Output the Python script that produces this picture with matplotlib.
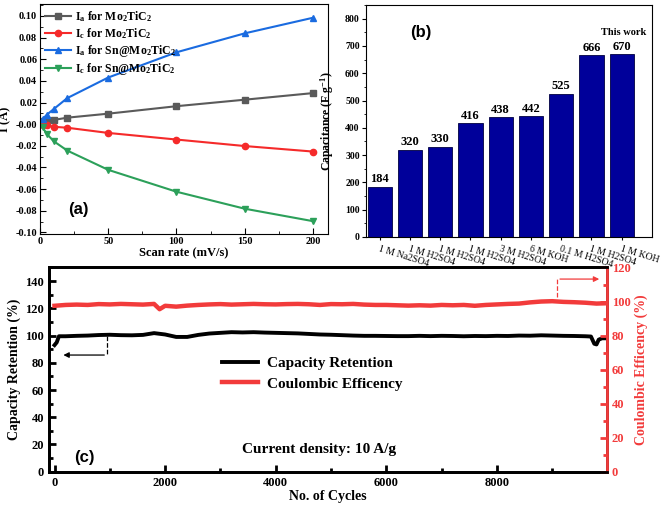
import numpy as np
import matplotlib
matplotlib.use("Agg")
import matplotlib.pyplot as plt
from matplotlib.ticker import MultipleLocator
from matplotlib import transforms

plt.rcParams["font.family"] = ["Liberation Serif", "DejaVu Serif"]
plt.rcParams["font.weight"] = "bold"
plt.rcParams["axes.labelweight"] = "bold"
plt.rcParams["mathtext.fontset"] = "custom"
plt.rcParams["mathtext.rm"] = "Liberation Serif:bold"
plt.rcParams["mathtext.it"] = "Liberation Serif:italic:bold"
plt.rcParams["mathtext.bf"] = "Liberation Serif:bold"

# (a) peak current vs scan rate
scan_rate = [2, 5, 10, 20, 50, 100, 150, 200]
ia_mo = [0.0030, 0.0035, 0.0039, 0.0060, 0.0097, 0.0166, 0.0226, 0.0287]
ic_mo = [-0.0005, -0.0012, -0.0024, -0.0033, -0.0081, -0.0142, -0.0202, -0.0253]
ia_sn = [0.0048, 0.0087, 0.0139, 0.0241, 0.0431, 0.0664, 0.0839, 0.0983]
ic_sn = [-0.0030, -0.0090, -0.0157, -0.0244, -0.0422, -0.0624, -0.0781, -0.0896]

# (b) capacitance comparison
electrolytes = ["1 M Na2SO4", "1 M H2SO4", "1 M H2SO4", "1 M H2SO4", "3 M H2SO4",
                "6 M KOH", "0.1 M H2SO4", "1 M H2SO4", "1 M KOH"]
capacitance = [184, 320, 330, 416, 438, 442, 525, 666, 670]

# (c) cycling stability
cyc_ret = [0, 40, 80, 200, 400, 600, 800, 1000, 1200, 1400, 1600, 1800, 2000,
           2200, 2400, 2600, 2800, 3000, 3200, 3400, 3600, 3800, 4000, 4200,
           4400, 4600, 4800, 5000, 5200, 5400, 5600, 5800, 6000, 6200, 6400,
           6600, 6800, 7000, 7200, 7400, 7600, 7800, 8000, 8200, 8400, 8600,
           8800, 9000, 9200, 9400, 9600, 9700, 9760, 9800, 9840, 9900, 10000]
retention = [93, 95, 99.5, 99.5, 99.8, 100, 100.4, 100.6, 100.3, 100.2, 100.5,
             101.8, 100.8, 99, 99, 100.5, 101.5, 102, 102.5, 102.3, 102.5, 102.2,
             102, 101.8, 101.6, 101.2, 100.8, 100.6, 100.3, 100, 99.8, 99.8, 99.7,
             99.6, 99.6, 99.8, 99.6, 99.8, 99.7, 99.5, 99.7, 99.6, 99.8, 99.7,
             100, 99.9, 100.2, 100, 99.8, 99.7, 99.5, 99.3, 94, 93.5, 97, 98, 98]
cyc_ce = [0, 200, 400, 600, 800, 1000, 1200, 1400, 1600, 1800, 1900, 2000,
          2200, 2400, 2600, 2800, 3000, 3200, 3400, 3600, 3800, 4000, 4200,
          4400, 4600, 4800, 5000, 5200, 5400, 5600, 5800, 6000, 6200, 6400,
          6600, 6800, 7000, 7200, 7400, 7600, 7800, 8000, 8200, 8400, 8600,
          8800, 9000, 9200, 9400, 9600, 9800, 10000]
coulombic = [97.5, 98, 98.2, 98, 98.5, 98.3, 98.6, 98.4, 98.2, 98.6, 95.5, 97.5,
             97, 97.6, 98, 98.3, 98.5, 98.2, 98.4, 98.6, 98.4, 98.3, 98.5, 98.6,
             98.4, 98, 98.5, 98.4, 98.6, 98.2, 98, 98, 97.8, 97.6, 97.8, 97.6,
             98, 97.8, 98, 97.5, 98, 98.3, 98.6, 98.8, 99.5, 100, 100.2, 99.8,
             99.6, 99.3, 98.8, 99]

RED = "#f23b3b"

fig = plt.figure(figsize=(6.61, 5.05), dpi=100)

# ---------------- (a) ----------------
ax1 = fig.add_axes([0.0605, 0.5366, 0.4355, 0.4554])
ax1.plot(scan_rate, ia_mo, "-s", color="#5a5a5a", ms=4.5, lw=1.5,
         label=r"I$_\mathrm{a}$ for Mo$_2$TiC$_2$")
ax1.plot(scan_rate, ic_mo, "-o", color="#f52a2a", ms=4.5, lw=1.5,
         label=r"I$_\mathrm{c}$ for Mo$_2$TiC$_2$")
ax1.plot(scan_rate, ia_sn, "-^", color="#1a6be0", ms=5, lw=1.5,
         label=r"I$_\mathrm{a}$ for Sn@Mo$_2$TiC$_2$")
ax1.plot(scan_rate, ic_sn, "-v", color="#2ca05a", ms=5, lw=1.5,
         label=r"I$_\mathrm{c}$ for Sn@Mo$_2$TiC$_2$")
ax1.set_xlim(0, 211)
ax1.set_ylim(-0.1015, 0.111)
ax1.xaxis.set_major_locator(MultipleLocator(50))
ax1.xaxis.set_minor_locator(MultipleLocator(25))
ax1.yaxis.set_major_locator(MultipleLocator(0.02))
ax1.yaxis.set_minor_locator(MultipleLocator(0.01))
ax1.yaxis.set_major_formatter(plt.FuncFormatter(lambda v, p: f"{v:.2f}"))
ax1.tick_params(which="both", direction="in", labelsize=7.5, pad=2)
ax1.tick_params(which="major", length=4)
ax1.tick_params(which="minor", length=2)
ax1.set_xlabel("Scan rate (mV/s)", fontsize=9, labelpad=1)
ax1.set_ylabel("I (A)", fontsize=9)
ax1.yaxis.set_label_coords(-0.1, 0.5)
ax1.legend(loc="upper left", frameon=False, fontsize=8.5, handlelength=2.2,
           borderaxespad=0.2, labelspacing=0.2, handletextpad=0.35,
           borderpad=0.2)
ax1.text(28, -0.079, "(a)", family="Liberation Sans", fontsize=12,
         fontweight="bold", ha="center", va="center")

# ---------------- (b) ----------------
ax2 = fig.add_axes([0.5537, 0.5307, 0.4327, 0.4593])
pos = np.arange(1, len(capacitance) + 1)
ax2.bar(pos, capacitance, width=0.8, color="#00009a", edgecolor="#000040",
        linewidth=0.6)
for p, v in zip(pos, capacitance):
    ax2.text(p, v + 6, str(v), ha="center", va="bottom", fontsize=9,
             fontweight="bold")
ax2.text(9.05, 750, "This work", ha="center", va="center", fontsize=7.5,
         fontweight="bold")
ax2.text(2.37, 750, "(b)", family="Liberation Sans", fontsize=12,
         fontweight="bold", ha="center", va="center")
ax2.set_xlim(0.55, 10.0)
ax2.set_ylim(0, 850)
ax2.yaxis.set_major_locator(MultipleLocator(100))
ax2.yaxis.set_minor_locator(MultipleLocator(50))
ax2.set_xticks(pos)
ax2.set_xticklabels(electrolytes, rotation=-17, ha="left",
                    rotation_mode="anchor", fontsize=7, fontweight="normal")
offset = transforms.ScaledTranslation(-7 / 100, 0, fig.dpi_scale_trans)
for lab in ax2.get_xticklabels():
    lab.set_transform(lab.get_transform() + offset)
ax2.tick_params(axis="y", which="both", direction="out", labelsize=7, pad=1.5)
ax2.tick_params(axis="y", which="major", length=3)
ax2.tick_params(axis="y", which="minor", length=1.5)
ax2.tick_params(axis="x", direction="out", length=2, pad=3)
ax2.set_ylabel(r"Capacitance (F g$^{-1}$)", fontsize=8.5)
ax2.yaxis.set_label_coords(-0.105, 0.5)

# ---------------- (c) ----------------
ax3 = fig.add_axes([0.0741, 0.0659, 0.8442, 0.4044])
ax4 = ax3.twinx()
l1, = ax3.plot(cyc_ret, retention, color="black", lw=2.8,
               label="Capacity Retention")
l2, = ax4.plot(cyc_ce, coulombic, color=RED, lw=3.2,
               label="Coulombic Efficency")
ax3.set_xlim(-100, 9990)
ax3.set_ylim(0, 150)
ax4.set_ylim(0, 120)
ax3.xaxis.set_major_locator(MultipleLocator(2000))
ax3.xaxis.set_minor_locator(MultipleLocator(1000))
ax3.yaxis.set_major_locator(MultipleLocator(20))
ax3.yaxis.set_minor_locator(MultipleLocator(10))
ax4.yaxis.set_major_locator(MultipleLocator(20))
ax4.yaxis.set_minor_locator(MultipleLocator(10))
for a in (ax3, ax4):
    for s in a.spines.values():
        s.set_linewidth(2)
ax4.spines["right"].set_color(RED)
ax3.tick_params(which="both", direction="in", width=2, labelsize=9)
ax3.tick_params(which="major", length=5)
ax3.tick_params(which="minor", length=3)
ax4.tick_params(which="both", direction="in", width=2, labelsize=9,
                color=RED, labelcolor=RED)
ax4.tick_params(which="major", length=5)
ax4.tick_params(which="minor", length=3)
ax3.set_xlabel("No. of Cycles", fontsize=10, labelpad=1)
ax3.set_ylabel("Capacity Retention (%)", fontsize=10, labelpad=3)
ax4.set_ylabel("Coulombic Efficency (%)", fontsize=10, color=RED, labelpad=3)

# guide arrows
ax3.plot([950, 950], [99.8, 85.7], ls="--", color="black", lw=0.9)
ax3.annotate("", xy=(110, 85.7), xytext=(950, 85.7),
             arrowprops=dict(arrowstyle="-|>", color="black", lw=0.9,
                             mutation_scale=8))
ax4.plot([9090, 9090], [102.9, 113.2], ls="--", color=RED, lw=0.9)
ax4.annotate("", xy=(9900, 113.2), xytext=(9090, 113.2),
             arrowprops=dict(arrowstyle="-|>", color=RED, lw=0.9,
                             mutation_scale=8))

ax3.legend(handles=[l1, l2], loc="upper left", bbox_to_anchor=(0.30, 0.595),
           frameon=False, fontsize=11, handlelength=2.3, labelspacing=0.45,
           handletextpad=0.6, borderaxespad=0)
ax3.text(4775, 16.6, "Current density: 10 A/g", fontsize=11,
         fontweight="bold", ha="center", va="center")
ax3.text(535, 10.8, "(c)", family="Liberation Sans", fontsize=12,
         fontweight="bold", ha="center", va="center")

fig.savefig("out.png", dpi=100)
